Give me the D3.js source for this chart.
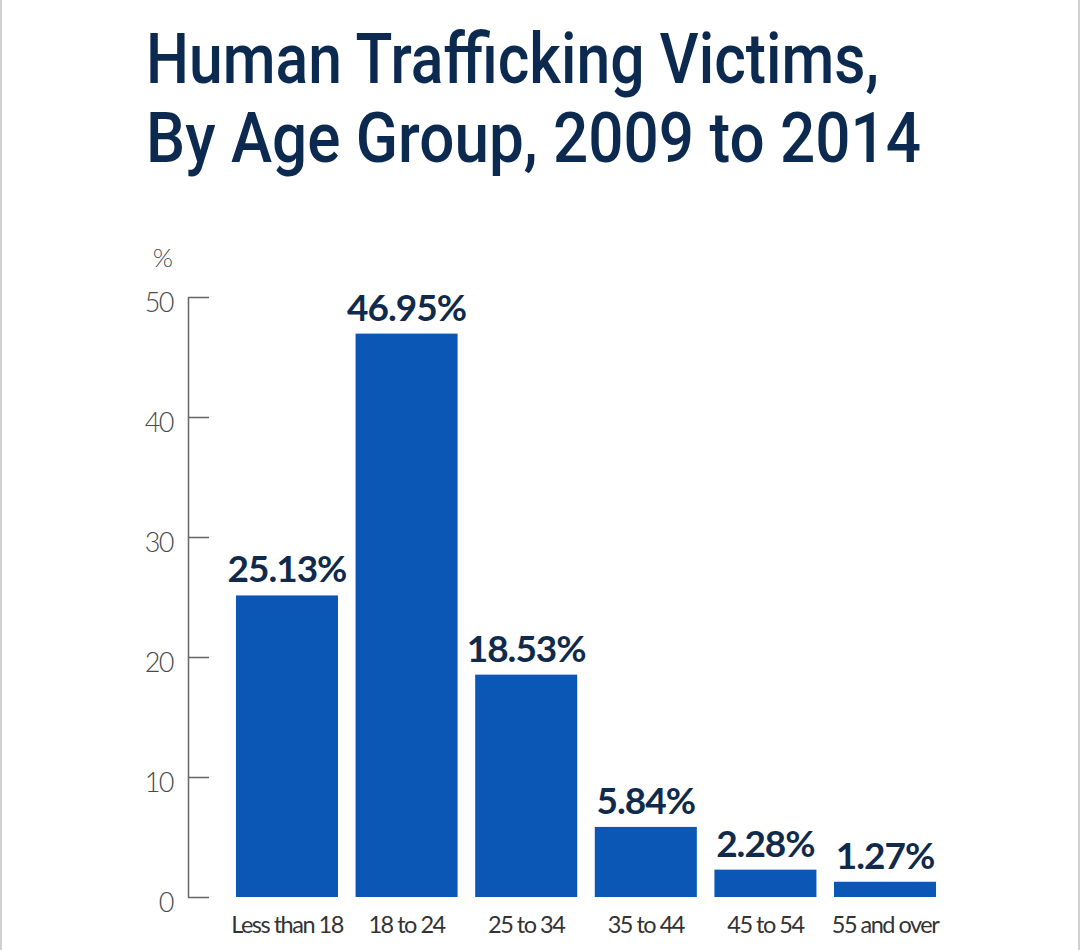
<!DOCTYPE html>
<html>
<head>
<meta charset="utf-8">
<script src="https://cdn.jsdelivr.net/npm/d3@7"></script>
<style>
  html, body { margin: 0; padding: 0; background: #fff; }
  svg { display: block; }
</style>
</head>
<body>
<script>
const categories = ["Less than 18", "18 to 24", "25 to 34", "35 to 44", "45 to 54", "55 and over"];
const values = [25.13, 46.95, 18.53, 5.84, 2.28, 1.27];
const valueLabels = ["25.13%", "46.95%", "18.53%", "5.84%", "2.28%", "1.27%"];
const yTicks = [0, 10, 20, 30, 40, 50];
const titleLines = ["Human Trafficking Victims,", "By Age Group, 2009 to 2014"];
const titleWidths = [733, 775];
const yUnit = "%";

const W = 1080, H = 950;
const svg = d3.select("body").append("svg").attr("width", W).attr("height", H);

svg.append("rect").attr("x", 0).attr("y", 0).attr("width", W).attr("height", H).attr("fill", "#fff");
// side borders
svg.append("rect").attr("x", 0).attr("y", 0).attr("width", 2).attr("height", H).attr("fill", "#d2d2d2");
svg.append("rect").attr("x", W - 2).attr("y", 0).attr("width", 2).attr("height", H).attr("fill", "#d2d2d2");

const font = "Lato, 'Open Sans', sans-serif";

// title
svg.append("g").selectAll("text").data(titleLines).join("text")
  .attr("x", 146).attr("y", (d, i) => 83 + i * 79)
  .attr("font-family", "Roboto, Lato, sans-serif").attr("font-weight", 500)
  .attr("font-size", 71)
  .attr("textLength", (d, i) => titleWidths[i]).attr("lengthAdjust", "spacingAndGlyphs")
  .attr("fill", "#0c2a50").text(d => d);

const y = d3.scaleLinear().domain([0, 50]).range([897, 297]);
const x = d3.scaleBand().domain(categories).range([224, 948]).paddingInner(0.147).paddingOuter(0.1);

// y axis
const yAxis = d3.axisLeft(y).tickValues(yTicks).tickSizeInner(-21).tickSizeOuter(0).tickPadding(15);
const gy = svg.append("g").attr("transform", "translate(188,0)").call(yAxis);
gy.select(".domain").attr("stroke", "#666").attr("stroke-width", 1.5);
gy.selectAll(".tick line").attr("stroke", "#666").attr("stroke-width", 1.5);
gy.selectAll(".tick text").attr("font-family", font).attr("font-weight", 300)
  .attr("font-size", 27).attr("letter-spacing", -1.5).attr("fill", "#4a4a4a").attr("dy", "0.55em");

svg.append("text").attr("x", 173).attr("y", 267).attr("text-anchor", "end")
  .attr("font-family", font).attr("font-weight", 300).attr("font-size", 26)
  .attr("fill", "#4a4a4a").text(yUnit);

// bars
svg.append("g").selectAll("rect").data(values).join("rect")
  .attr("x", (d, i) => x(categories[i]))
  .attr("width", x.bandwidth())
  .attr("y", d => y(d))
  .attr("height", d => y(0) - y(d))
  .attr("fill", "#0a57b5");

// value labels
svg.append("g").selectAll("text").data(values).join("text")
  .attr("x", (d, i) => x(categories[i]) + x.bandwidth() / 2)
  .attr("y", d => y(d) - 13)
  .attr("text-anchor", "middle")
  .attr("font-family", font).attr("font-weight", 700).attr("font-size", 37)
  .attr("letter-spacing", -1)
  .attr("fill", "#102a4c")
  .text((d, i) => valueLabels[i]);

// x labels
const xAxis = d3.axisBottom(x).tickSize(0).tickPadding(0);
const gx = svg.append("g").attr("transform", "translate(0,897)").call(xAxis);
gx.select(".domain").remove();
gx.selectAll(".tick text").attr("font-family", font).attr("font-weight", 400)
  .attr("font-size", 23.5).attr("letter-spacing", -1.5).attr("fill", "#333")
  .attr("dy", 0).attr("y", 36);
</script>
</body>
</html>
